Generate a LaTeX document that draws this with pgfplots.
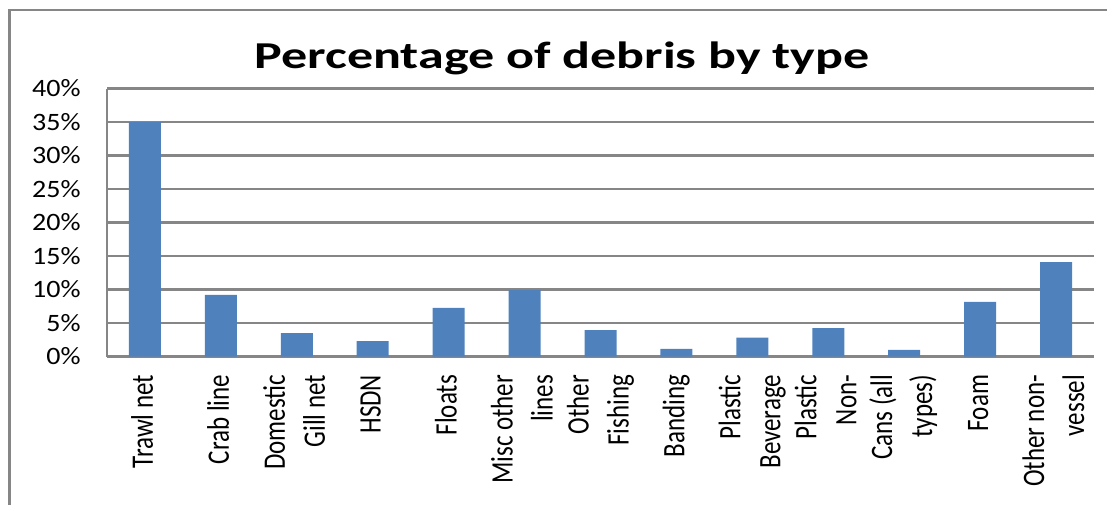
\documentclass[border=0pt]{standalone}
\usepackage{pgfplots}
\pgfplotsset{compat=1.18}
\usepackage{graphicx}
\usepackage{fontspec}
\setmainfont{Carlito}
\definecolor{barblue}{RGB}{79,129,189}
\definecolor{gridgray}{RGB}{134,134,134}
\newcommand\xl[1]{\scalebox{1}[1.25]{\fontsize{12.5}{16}\selectfont\begin{tabular}{@{}r@{}}#1\end{tabular}}}
\newcommand\yl[1]{\scalebox{1.12}[1]{#1}}
\begin{document}
\begin{tikzpicture}
\useasboundingbox (0,0) rectangle (553.5pt,252pt);
\draw[gridgray, line width=1.3pt] (4.75pt,-2pt) -- (4.75pt,247pt) -- (560pt,247pt);
\node[font=\fontsize{19}{23}\bfseries\selectfont, anchor=base, inner sep=0pt] at (281pt,217.5pt) {\scalebox{1.37}[1]{Percentage of debris by type}};
\begin{axis}[
 at={(53.5pt,73.75pt)}, anchor=south west,
 width=493.5pt, height=134pt, scale only axis,
 xmin=-0.5, xmax=12.5, ymin=0, ymax=40,
 axis x line=bottom, axis y line=left,
 axis line style={gridgray, line width=1.1pt, -},
 ytick={0,5,...,40},
 yticklabels={\yl{0\%},\yl{5\%},\yl{10\%},\yl{15\%},\yl{20\%},\yl{25\%},\yl{30\%},\yl{35\%},\yl{40\%}},
 ymajorgrids, grid style={gridgray, line width=1.1pt},
 major tick length=0pt,
 xtick={0,...,12},
 xticklabels={{\xl{Trawl net}},{\xl{Crab line}},{\xl{Domestic\\Gill net}},{\xl{HSDN}},{\xl{Floats}},{\xl{Misc other\\lines}},{\xl{Other\\Fishing}},{\xl{Banding}},{\xl{Plastic\\Beverage}},{\xl{Plastic\\Non-}},{\xl{Cans (all\\types)}},{\xl{Foam}},{\xl{Other non-\\vessel}}},
 yticklabel style={font=\fontsize{12.5}{15}\selectfont, inner ysep=0pt, inner xsep=13pt, anchor=east},
 xticklabel style={rotate=90, anchor=east, inner ysep=0pt, inner xsep=9pt},
 ybar, bar width=16pt,
 clip=false,
]
\addplot[fill=barblue, draw=none] coordinates {
 (0,35.0) (1,9.2) (2,3.5) (3,2.3) (4,7.25) (5,9.95) (6,3.95)
 (7,1.15) (8,2.8) (9,4.25) (10,1.0) (11,8.15) (12,14.1)
};
\end{axis}
\end{tikzpicture}
\end{document}
